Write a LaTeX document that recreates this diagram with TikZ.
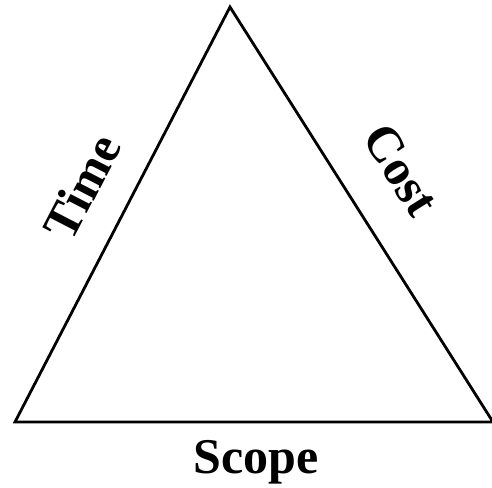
\documentclass[tikz,border=0pt]{standalone}
\usepackage{fontspec}
\setmainfont{Liberation Serif}
\begin{document}
\begin{tikzpicture}[x=1pt,y=1pt,
  side/.style={line width=2.8pt, line join=miter},
  lbl/.style={font=\fontsize{50}{54}\selectfont\bfseries, inner sep=0pt}]
\useasboundingbox (0,0) rectangle (492,487);
\coordinate (apex) at (230,480);
\coordinate (bl) at (15,65);
\coordinate (br) at (493,65);
\draw[side] (apex) -- (bl) -- (br) -- cycle;
\node[lbl, rotate=62.6] (time) at (82,300) {Time};
\node[lbl, rotate=-57.7] (cost) at (401,317) {Cost};
\node[lbl, anchor=base] (scope) at (256,14) {Scope};
\end{tikzpicture}
\end{document}
